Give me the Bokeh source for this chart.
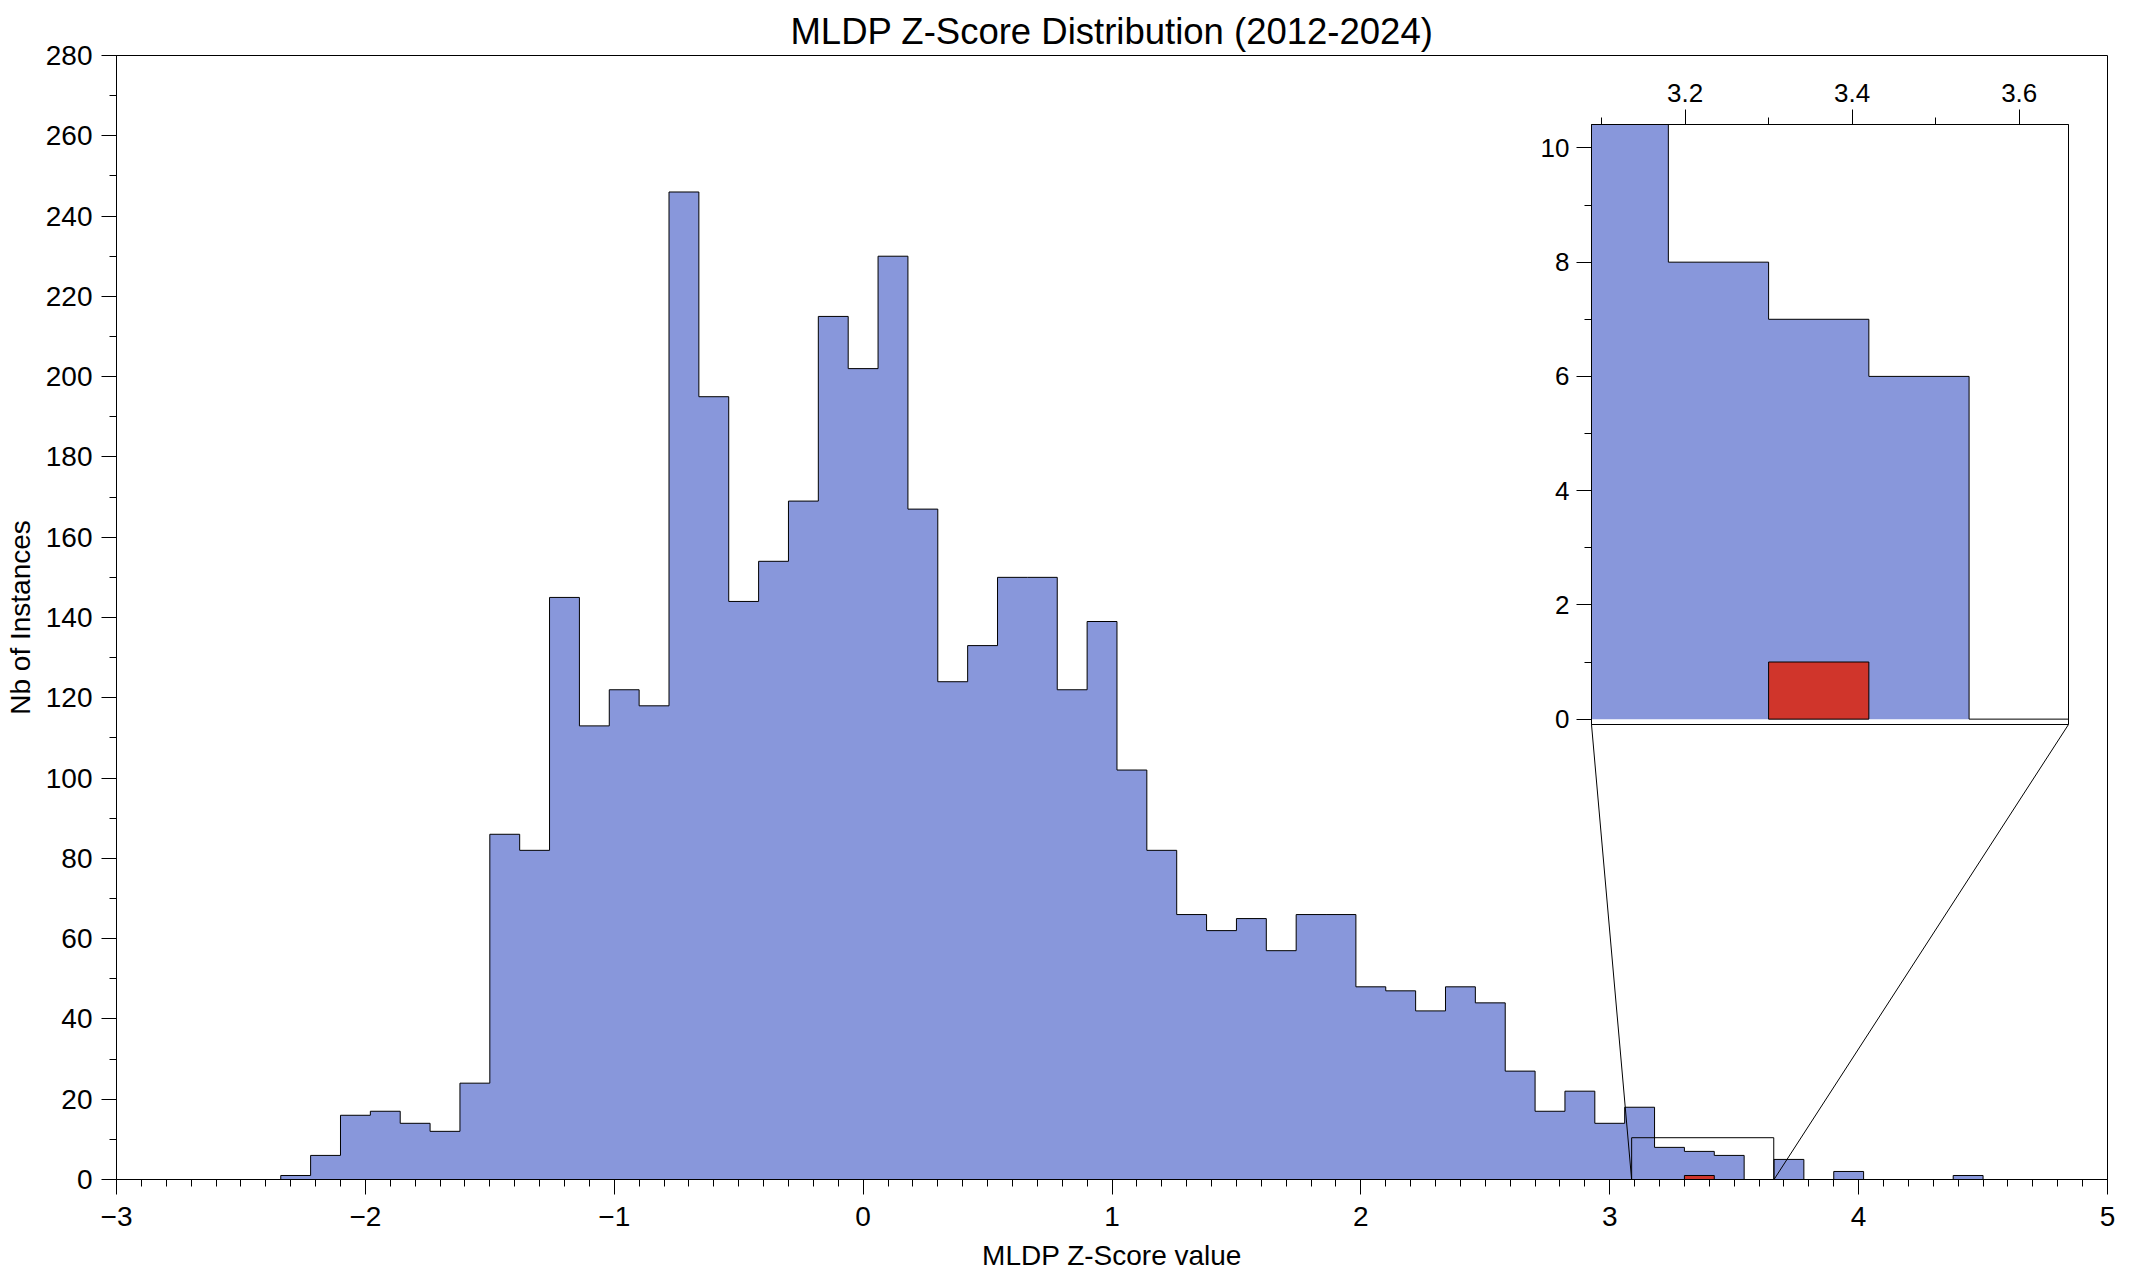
import numpy as np
from bokeh.plotting import figure
from bokeh.models import Range1d, SingleIntervalTicker, CustomJSTickFormatter, GridBox
from bokeh.embed import file_html
from bokeh.resources import INLINE

# ---------------- data ----------------
bin_edges = [-2.34, -2.22, -2.10, -1.98, -1.86, -1.74, -1.62, -1.50, -1.38, -1.26,
             -1.14, -1.02, -0.90, -0.78, -0.66, -0.54, -0.42, -0.30, -0.18, -0.06,
             0.06, 0.18, 0.30, 0.42, 0.54, 0.66, 0.78, 0.90, 1.02, 1.14,
             1.26, 1.38, 1.50, 1.62, 1.74, 1.86, 1.98, 2.10, 2.22, 2.34,
             2.46, 2.58, 2.70, 2.82, 2.94, 3.06, 3.18, 3.30, 3.42, 3.54,
             3.66, 3.78, 3.90, 4.02, 4.14, 4.26, 4.38, 4.50]
counts = [1, 6, 16, 17, 14, 12, 24, 86, 82, 145,
          113, 122, 118, 246, 195, 144, 154, 169, 215, 202,
          230, 167, 124, 133, 150, 150, 122, 139, 102, 82,
          66, 62, 65, 57, 66, 66, 48, 47, 42, 48,
          44, 27, 17, 22, 14, 18, 8, 7, 6, 0,
          5, 0, 2, 0, 0, 0, 1]
highlight_left = [3.30]
highlight_right = [3.42]
highlight_count = [1]

title_text = "MLDP Z-Score Distribution (2012-2024)"
x_label = "MLDP Z-Score value"
y_label = "Nb of Instances"

main_x = (-3, 5)
main_y = (0, 280)
inset_x = (3.088, 3.659)
inset_y = (-0.094, 10.41)

# ---------------- styles / geometry ----------------
BLUE = "#8897db"
RED = "#d0352b"
FONT = "Liberation Sans"
W, H = 2140, 1276
ML, MT = 116, 55
MR = W - 2107
MB = H - 1179
IX0, IY0, IW, IH = 1591, 124, 477, 600          # inset frame (canvas px)
IBL, IBT, IBR, IBB = 60, 64, 2, 20              # inset borders


def step_outline(edges, vals):
    xs, ys = [edges[0]], [0]
    for i, v in enumerate(vals):
        xs += [edges[i], edges[i + 1]]
        ys += [v, v]
    xs.append(edges[-1])
    ys.append(0)
    return xs, ys


sx, sy = step_outline(bin_edges, counts)


def style_axis(ax, font_size):
    ax.axis_line_color = "black"
    ax.major_tick_line_color = "black"
    ax.minor_tick_line_color = "black"
    ax.major_tick_in = 0
    ax.minor_tick_in = 0
    ax.major_tick_out = 15
    ax.minor_tick_out = 7
    ax.major_label_text_font = FONT
    ax.major_label_text_font_size = font_size
    ax.major_label_text_color = "black"
    ax.axis_label_text_font = FONT
    ax.axis_label_text_font_size = "28px"
    ax.axis_label_text_font_style = "normal"
    ax.axis_label_text_color = "black"


# ---------------- main figure ----------------
p = figure(width=W, height=H, output_backend="svg", toolbar_location=None,
           x_range=Range1d(*main_x), y_range=Range1d(*main_y),
           min_border_left=ML, min_border_right=MR, min_border_top=MT, min_border_bottom=MB)
p.title.text = title_text
p.title.align = "center"
p.title.text_font = FONT
p.title.text_font_size = "36.5px"
p.title.text_font_style = "normal"
p.title.text_color = "black"
p.title.standoff = 7
p.xgrid.visible = False
p.ygrid.visible = False
p.outline_line_color = "black"
p.outline_line_alpha = 1
p.background_fill_color = "white"
p.border_fill_color = "white"

p.xaxis.ticker = SingleIntervalTicker(interval=1, num_minor_ticks=10)
p.xaxis.formatter = CustomJSTickFormatter(code="return (tick < 0 ? '\\u2212' : '') + Math.abs(tick).toString();")
p.yaxis.ticker = SingleIntervalTicker(interval=20, num_minor_ticks=2)
p.xaxis.axis_label = x_label
p.yaxis.axis_label = y_label
style_axis(p.xaxis[0], "28px")
style_axis(p.yaxis[0], "28px")
p.xaxis.major_label_standoff = 12
p.xaxis.axis_label_standoff = 11
p.yaxis.major_label_standoff = 9
p.yaxis.axis_label_standoff = 7

p.patch(sx, sy, fill_color=BLUE, line_color=None)
p.line(sx, sy, line_color="black", line_width=1)
p.quad(left=highlight_left, right=highlight_right, bottom=0, top=highlight_count,
       fill_color=RED, line_color="black", line_width=1)

# zoom indicator rectangle
p.quad(left=[inset_x[0]], right=[inset_x[1]], bottom=[inset_y[0]], top=[inset_y[1]],
       fill_alpha=0, line_color="black", line_width=1)

# connector lines from inset frame corners to indicator corners
fw, fh = W - ML - MR, H - MT - MB


def px_to_x(px):
    return main_x[0] + (px - ML) * (main_x[1] - main_x[0]) / fw


def py_to_y(py):
    return main_y[0] + (H - MB - py) * (main_y[1] - main_y[0]) / fh


cy = py_to_y(IY0 + IH)
p.segment(x0=[px_to_x(IX0), px_to_x(IX0 + IW)], y0=[cy, cy],
          x1=[inset_x[0], inset_x[1]], y1=[inset_y[0], inset_y[0]],
          line_color="black", line_width=1)

# ---------------- inset figure ----------------
ins = figure(width=IBL + IW + IBR, height=IBT + IH + IBB, output_backend="svg",
             toolbar_location=None, x_range=Range1d(*inset_x), y_range=Range1d(*inset_y),
             x_axis_location="above", y_axis_location="left",
             min_border_left=IBL, min_border_right=IBR, min_border_top=IBT, min_border_bottom=IBB)
ins.xgrid.visible = False
ins.ygrid.visible = False
ins.outline_line_color = "black"
ins.background_fill_color = "white"
ins.border_fill_alpha = 0
ins.xaxis.ticker = SingleIntervalTicker(interval=0.2, num_minor_ticks=2)
ins.yaxis.ticker = SingleIntervalTicker(interval=2, num_minor_ticks=2)
style_axis(ins.xaxis[0], "26px")
style_axis(ins.yaxis[0], "26px")
ins.xaxis.major_label_standoff = 8
ins.yaxis.major_label_standoff = 7

ins.patch(sx, sy, fill_color=BLUE, line_color=None)
ins.line(sx, sy, line_color="black", line_width=1)
ins.quad(left=highlight_left, right=highlight_right, bottom=0, top=highlight_count,
         fill_color=RED, line_color="black", line_width=1)

# ---------------- overlay layout ----------------
ifl = IX0 - IBL
ift = IY0 - IBT
iw_tot = IBL + IW + IBR
ih_tot = IBT + IH + IBB
layout = GridBox(children=[(p, 0, 0, 3, 3), (ins, 1, 1, 1, 1)],
                 cols=[f"{ifl}px", f"{iw_tot}px", f"{W - ifl - iw_tot}px"],
                 rows=[f"{ift}px", f"{ih_tot}px", f"{H - ift - ih_tot}px"])

open("out.html", "w").write(file_html(layout, INLINE))
